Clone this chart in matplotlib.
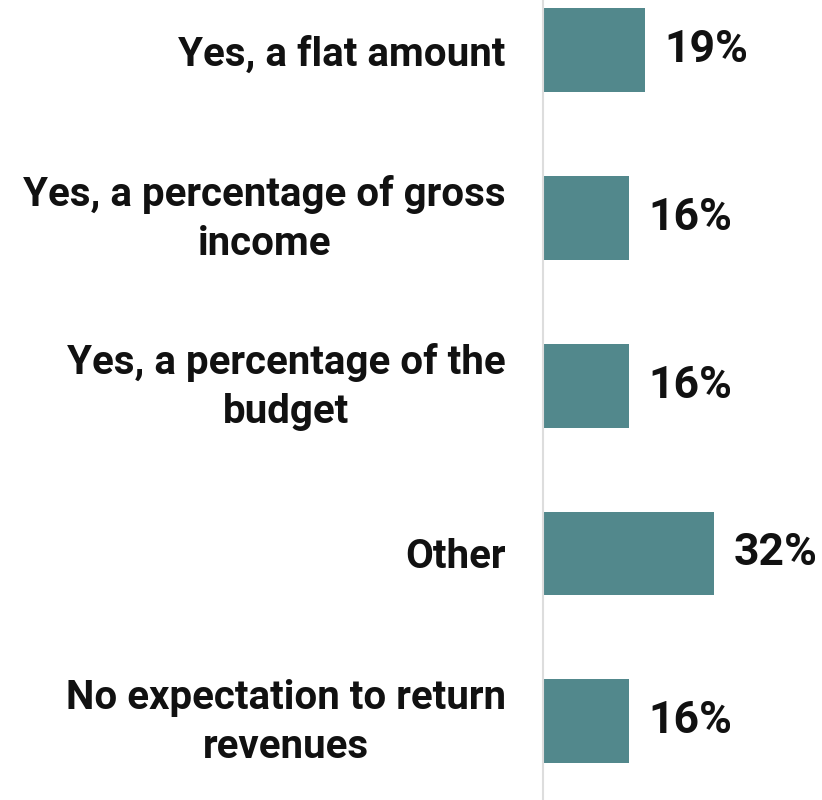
import matplotlib.pyplot as plt
from matplotlib.transforms import ScaledTranslation

categories = ['Yes, a flat amount',
              'Yes, a percentage of gross\nincome',
              'Yes, a percentage of the\nbudget',
              'Other',
              'No expectation to return\nrevenues']
values = [19, 16, 16, 32, 16]

bar_color = '#52888c'

fig = plt.figure(figsize=(8.22, 8), dpi=100)
ax = fig.add_axes([543 / 822, 0, 1 - 543 / 822, 1])

positions = list(range(len(categories)))
ax.barh(positions, values, height=0.5, color=bar_color)

for y, v in zip(positions, values):
    ax.annotate(f'{v}%', xy=(v, y), xytext=(14, 0), textcoords='offset points',
                va='center', ha='left', fontsize=32, fontweight='bold',
                family='Roboto', color='#111111')

ax.set_yticks(positions)
ax.set_yticklabels(categories, fontsize=29, fontweight='bold', family='Roboto',
                   color='#111111', multialignment='center', linespacing=1.37)
ax.tick_params(axis='y', length=0, pad=27)
ax.set_xticks([])

# two-line labels sit a little low because of the descender space, nudge them up
nudge = ScaledTranslation(0, 6 / 72, fig.dpi_scale_trans)
for lbl in ax.get_yticklabels():
    if '\n' in lbl.get_text():
        lbl.set_transform(lbl.get_transform() + nudge)

ax.set_xlim(0, 52.2)
ax.set_ylim(4.47, -0.30)

for side in ['top', 'right', 'bottom']:
    ax.spines[side].set_visible(False)
ax.spines['left'].set_color('#dddddd')
ax.spines['left'].set_linewidth(1.5)

fig.savefig('out.png', dpi=100)
